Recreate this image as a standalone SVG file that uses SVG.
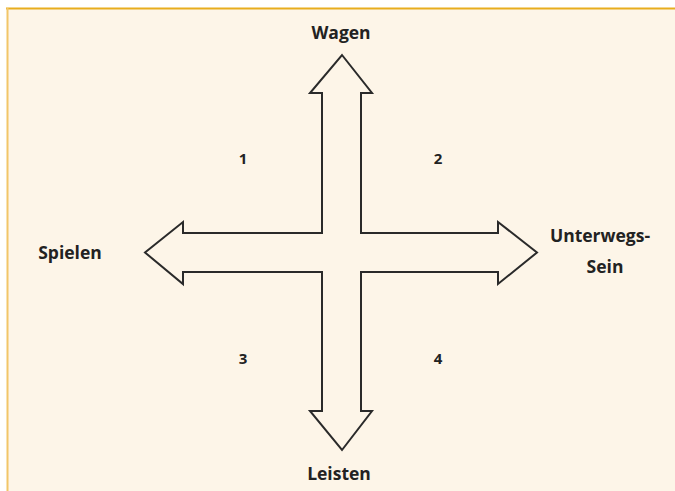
<svg xmlns="http://www.w3.org/2000/svg" width="675" height="491" viewBox="0 0 675 491">
<style>
.lbl{font-family:"Open Sans","Liberation Sans",sans-serif;font-weight:bold;font-size:17.5px;fill:#222;text-anchor:middle}
.num{font-family:"Open Sans","Liberation Sans",sans-serif;font-weight:bold;font-size:15px;fill:#222;text-anchor:middle}
.arrow{fill:#fdf5e8;stroke:#2a2a2a;stroke-width:2;stroke-linejoin:miter}
</style>
<rect x="0" y="0" width="675" height="491" fill="#ffffff"/>
<rect x="7" y="8" width="668" height="483" fill="#fdf5e8"/>
<line x1="6" y1="8.5" x2="675" y2="8.5" stroke="#e8ad1e" stroke-width="2"/>
<line x1="7.5" y1="8" x2="7.5" y2="491" stroke="#f2c668" stroke-width="2"/>
<g id="connectors">
<polygon class="arrow" points="342,55 372,93 361,93 361,233 498,233 498,222 537,252.5 498,284 498,272 361,272 361,411 372,411 342,450 310,411 322,411 322,272 183,272 183,284 145,252.5 183,222 183,233 322,233 322,93 310,93"/>
</g>
<g id="wagen"><text class="lbl" x="341" y="39">Wagen</text></g>
<g id="spielen"><text class="lbl" x="70" y="259">Spielen</text></g>
<g id="unterwegs"><text class="lbl" x="600" y="242">Unterwegs-</text><text class="lbl" x="605" y="273">Sein</text></g>
<g id="leisten"><text class="lbl" x="339" y="480">Leisten</text></g>
<g id="q1"><text class="num" x="243" y="164">1</text></g>
<g id="q2"><text class="num" x="438" y="164">2</text></g>
<g id="q3"><text class="num" x="243" y="364">3</text></g>
<g id="q4"><text class="num" x="438" y="364">4</text></g>
</svg>
